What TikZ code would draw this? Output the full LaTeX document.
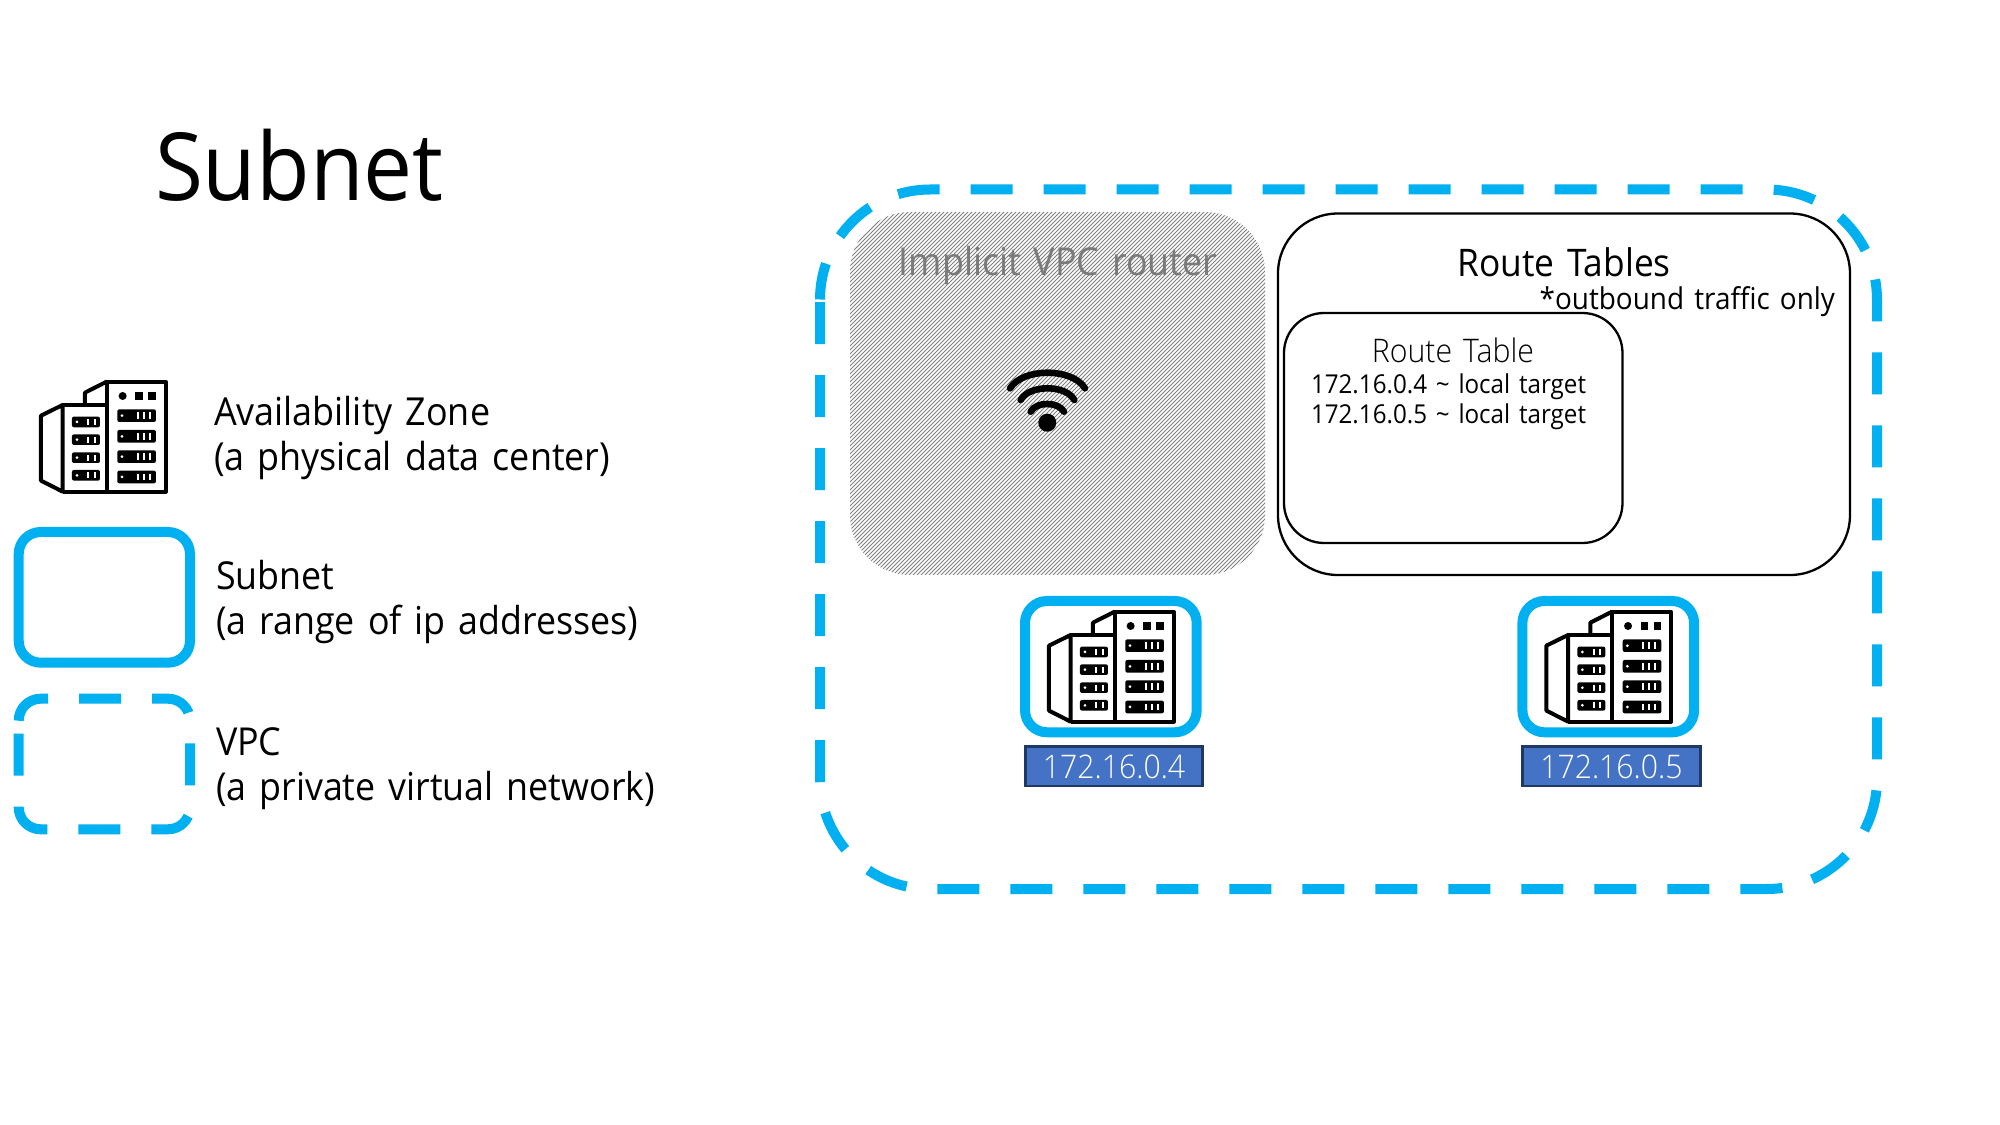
\documentclass[tikz,border=0pt]{standalone}
\usepackage{fontspec}
\setmainfont[WordSpace=1.4,FakeStretch=0.93]{Open Sans}
\newfontfamily\lightfont[WordSpace=1.4,FakeStretch=0.93]{Open Sans Light}
\definecolor{vpcblue}{HTML}{00B0F0}
\definecolor{labelblue}{HTML}{4472C4}
\definecolor{labeledge}{HTML}{203864}
\newcommand{\fpx}[1]{\pgfmathsetmacro{\fs}{#1*0.2845}\fontsize{\fs pt}{\fs pt}\selectfont}
\tikzset{
  x=0.1mm,y=-0.1mm,
  solidnet/.style={draw=vpcblue,line width=1mm,rounded corners=2.2mm},
  dashnet/.style={draw=vpcblue,line width=1mm,dash pattern=on 4.2mm off 3.1mm},
  panel/.style={draw=black,line width=0.23mm},
  txt/.style={inner sep=0,outer sep=0,text=black},
  iplabel/.style={draw=labeledge,line width=0.28mm,fill=labelblue},
  wifiarc/.style={draw=black,line width=0.66mm,line cap=round},
  hatchline/.style={draw=black!50,line width=0.095mm},
  building/.pic={
    \begin{scope}[shift={(0,350)},x=0.03333mm,y=-0.03333mm,line width=0.4mm,line join=round]
      \draw (123,197) -- (188,165) -- (188,425) -- (123,392) -- cycle;
      \draw (188,165) -- (320,165);
      \draw (188,425) -- (497,425) -- (497,95) -- (320,95) -- (320,425);
      \draw (255,160) -- (255,128) -- (320,95);
      \fill (368,138) circle (12);
      \fill (406,127) rectangle (428,150);
      \fill (445,127) rectangle (467,150);
      \foreach \yy in {178,240,301,362}{
        \fill[rounded corners=0.2mm] (352,\yy) rectangle (468,\yy+38);
        \fill[white] (366,\yy+19) circle (4.5);
        \foreach \xx in {413,431,450}{\fill[white] (\xx-3,\yy+9) rectangle (\xx+3,\yy+29);}
      }
      \foreach \yy in {200,253,307,360}{
        \fill[rounded corners=0.2mm] (216,\yy) rectangle (300,\yy+32);
        \fill[white] (231,\yy+16) circle (4.5);
        \foreach \xx in {265,285}{\fill[white] (\xx-3,\yy+7) rectangle (\xx+3,\yy+25);}
      }
    \end{scope}
  }
}
\begin{document}
\begin{tikzpicture}
\useasboundingbox[fill=white] (0,0) rectangle (2000,1125);
% title
\node[txt,anchor=base west] (title) at (155,201) {\fpx{94}Subnet};
% legend
\pic at (0,0) {building};
\node[txt,anchor=base west] (az1) at (214,426) {\fpx{38.6}Availability Zone};
\node[txt,anchor=base west] (az2) at (214,471) {\fpx{38.6}(a physical data center)};
\draw[solidnet] (18.7,532) rectangle (190,662.7);
\node[txt,anchor=base west] (sn1) at (216,589) {\fpx{38.5}Subnet};
\node[txt,anchor=base west] (sn2) at (216,634) {\fpx{38.5}(a range of ip addresses)};
\draw[dashnet] (18.7,720.7) arc[start angle=180,end angle=270,radius=22] -- (168,698.7) arc[start angle=270,end angle=360,radius=22] -- (190,807.3) arc[start angle=0,end angle=90,radius=22] -- (40.7,829.3) arc[start angle=90,end angle=180,radius=22] -- cycle;
\node[txt,anchor=base west] (vp1) at (216,755) {\fpx{38.5}VPC};
\node[txt,anchor=base west] (vp2) at (216,800) {\fpx{38.5}(a private virtual network)};
% VPC
\draw[dashnet,dash phase=0.55mm] (820,299.5) arc[start angle=180,end angle=270,radius=110] -- (1767,189.5) arc[start angle=270,end angle=360,radius=110] -- (1877,779) arc[start angle=0,end angle=90,radius=110] -- (930,889) arc[start angle=90,end angle=180,radius=110] -- cycle;
% router
\begin{scope}
  \clip[rounded corners=6mm] (850,212) rectangle (1265,575);
  \foreach \hx in {480,484,...,1270}{\draw[hatchline] (\hx,580) -- (\hx+375,205);}
\end{scope}
\node[txt,anchor=base,text=black!52] (routerlabel) at (1058,276) {\fpx{38.5}Implicit VPC router};
\fill (1047.3,422.7) circle (9);
\draw[wifiarc] (1010,388.3) .. controls (1023,367.5) and (1072,367.5) .. (1085,388.3);
\draw[wifiarc] (1020.7,400) .. controls (1029,384.4) and (1066,384.4) .. (1074.3,400);
\draw[wifiarc] (1030.7,411.7) .. controls (1036,401.4) and (1058,401.4) .. (1064,411.7);
% route tables
\draw[panel,rounded corners=6mm] (1278,213.5) rectangle (1850,575);
\draw[panel,rounded corners=4mm] (1284,313) rectangle (1622.5,543);
\node[txt,anchor=base] (rts) at (1564,276.5) {\fpx{38}Route Tables};
\node[txt,anchor=base east] (rtn) at (1835,309.5) {\fpx{30}*outbound traffic only};
\node[txt,anchor=base] (rt) at (1453,362.5) {\lightfont\fpx{32.5}Route Table};
\node[txt,anchor=base west] (r1) at (1311,394) {\fpx{26}172.16.0.4 \textasciitilde{} local target};
\node[txt,anchor=base west] (r2) at (1311,424) {\fpx{26}172.16.0.5 \textasciitilde{} local target};
% subnets
\draw[solidnet] (1025,601) rectangle (1196.7,732.3);
\pic at (1008,230) {building};
\draw[iplabel] (1025.3,746.5) rectangle (1202.7,786);
\node[txt,anchor=base,text=white] (ip1) at (1114,779) {\lightfont\fpx{32.5}172.16.0.4};
\draw[solidnet] (1522.4,601) rectangle (1694.1,732.3);
\pic at (1505.4,230) {building};
\draw[iplabel] (1522.7,746.5) rectangle (1700.1,786);
\node[txt,anchor=base,text=white] (ip2) at (1611.4,779) {\lightfont\fpx{32.5}172.16.0.5};
\end{tikzpicture}
\end{document}
